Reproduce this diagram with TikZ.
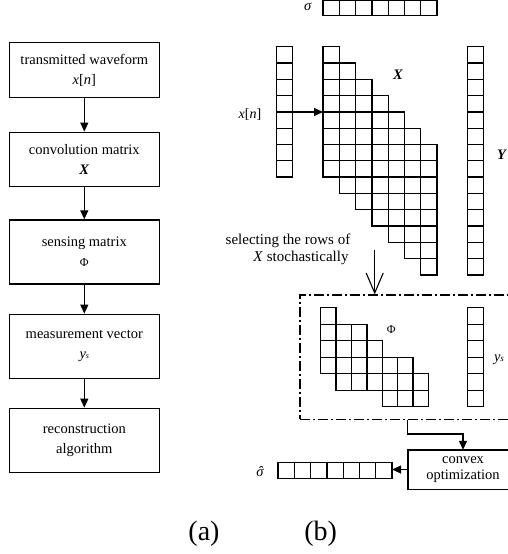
\documentclass[tikz,border=0pt]{standalone}
\usepackage{fontspec}
\setmainfont{Liberation Serif}
\usetikzlibrary{arrows.meta}
\tikzset{
  flowbox/.style={draw, line width=1.4pt, minimum width=150pt, inner sep=0pt, align=center,
    font=\fontsize{14.5}{20}\selectfont},
  cell/.style={draw, line width=1.3pt},
  arr/.style={-{Triangle[length=9pt,width=8pt]}, line width=1.2pt},
  lbl/.style={inner sep=0pt, font=\fontsize{14.5}{16}\selectfont},
  txt/.style={inner sep=0pt, font=\fontsize{15}{17}\selectfont},
  big/.style={inner sep=0pt, font=\fontsize{28}{32}\selectfont},
}
\begin{document}
\begin{tikzpicture}[x=1pt,y=-1pt]
\useasboundingbox (0,0) rectangle (508,554);
\clip (0,0) rectangle (508,554);

% ---------- (a) flow chart ----------
\node[flowbox, minimum height=54.6pt] (b1) at (84.3,70) {transmitted waveform\\\textit{x}[\textit{n}]};
\node[flowbox, minimum height=54.4pt] (b2) at (84.3,159.5) {convolution matrix\\\textbf{\textit{X}}};
\node[flowbox, minimum height=64pt] (b3) at (84.3,252) {sensing matrix\\{\fontsize{12}{14}\selectfont Φ}};
\node[flowbox, minimum height=64pt] (b4) at (84.3,346.3) {measurement vector\\\textit{y}{\fontsize{8}{9}\selectfont\textit{s}}};
\node[flowbox, minimum height=64pt] (b5) at (84.3,440.3) {reconstruction\\algorithm};
\draw[arr] (b1.south) -- (b2.north);
\draw[arr] (b2.south) -- (b3.north);
\draw[arr] (b3.south) -- (b4.north);
\draw[arr] (b4.south) -- (b5.north);

% ---------- (b) ----------
% sigma row
\begin{scope}[shift={(323,0.8)}, x=16.3pt, y=-14.6pt]
  \foreach \j in {0,...,6} \draw[cell] (\j,0) rectangle ++(1,1);
\end{scope}
\node[lbl] (sig) at (308,7) {\textit{σ}};

% x[n] column
\begin{scope}[shift={(276.7,46.7)}, x=16pt, y=-16.3pt]
  \foreach \k in {0,...,7} \draw[cell] (0,\k) rectangle ++(1,1);
\end{scope}
\node[lbl, font=\fontsize{14}{16}\selectfont] (xnl) at (250,115) {\textit{x}[\textit{n}]};

% X convolution matrix
\begin{scope}[shift={(323,46.7)}, x=16.3pt, y=-16.3pt]
  \foreach \j in {0,...,6} \foreach \k in {0,...,7} \draw[cell] (\j,\j+\k) rectangle ++(1,1);
\end{scope}
\node[lbl] (Xl) at (398,75) {\textbf{\textit{X}}};

% Y column
\begin{scope}[shift={(467.3,46.7)}, x=16.3pt, y=-16.3pt]
  \foreach \k in {0,...,13} \draw[cell] (0,\k) rectangle ++(1,1);
\end{scope}
\node[lbl] (Yl) at (502,155) {\textbf{\textit{Y}}};

\coordinate (xnr) at (292.7,112);
\coordinate (Xleft) at (323,112);
\draw[arr] (xnr) -- (Xleft);

% selecting text + arrow
\node[txt] (sel1) at (288,240.7) {selecting the rows of};
\node[txt] (sel2) at (301,258.3) {\textit{X} stochastically};

% dashed selection box
\node[draw, line width=1.1pt, dash pattern=on 10pt off 3pt on 2pt off 3pt,
      minimum width=220pt, minimum height=124.3pt, inner sep=0pt] (selbox) at (410,357.15) {};
\coordinate (selarrtop) at (374.7,250);
\draw[-{Straight Barb[length=20pt,width=17pt]}, line width=1.1pt] (selarrtop) -- (selarrtop |- selbox.north);

% Phi matrix
\begin{scope}[shift={(320.7,307.7)}, x=15.4pt, y=-16.5pt]
  \foreach \c/\a/\b in {0/0/3,1/1/4,2/1/4,3/2/4,4/3/5,5/3/5,6/4/5}
    \foreach \r in {\a,...,\b} \draw[cell] (\c,\r) rectangle ++(1,1);
\end{scope}
\node[lbl, font=\fontsize{12}{14}\selectfont] (Phil) at (391.3,329.3) {Φ};

% y_s column
\begin{scope}[shift={(467.3,307.7)}, x=16pt, y=-16.5pt]
  \foreach \k in {0,...,5} \draw[cell] (0,\k) rectangle ++(1,1);
\end{scope}
\node[lbl] (ysl) at (499,360) {\textit{y}{\fontsize{9}{10}\selectfont\textit{s}}};

% convex optimization (box runs past the right edge)
\node[minimum width=110pt, minimum height=39pt, inner sep=0pt, align=center,
      font=\fontsize{14.5}{16.6}\selectfont] (cvx) at (463,469.5) {convex\\optimization};
\draw[line width=1.4pt] ([xshift=80pt]cvx.north east) -- (cvx.north west) -- (cvx.south west) -- ([xshift=80pt]cvx.south east);
\coordinate (bendy) at (0,434);
\draw[arr] (selbox.south -| cvx.west) |- (cvx.north |- bendy) -- (cvx.north);

% sigma hat row
\begin{scope}[shift={(278,462.7)}, x=16.3pt, y=-15.6pt]
  \foreach \j in {0,...,6} \draw[cell] (\j,0) rectangle ++(1,1);
\end{scope}
\coordinate (shr) at (392.1,469.5);
\draw[arr] (cvx.west) -- (shr);
\node[lbl] (sighat) at (260,471.7) {\textit{σ\llap{ˆ\kern0.06em}}};

% captions
\node[big] (capa) at (204,534) {(a)};
\node[big] (capb) at (320.7,534) {(b)};
\end{tikzpicture}
\end{document}
